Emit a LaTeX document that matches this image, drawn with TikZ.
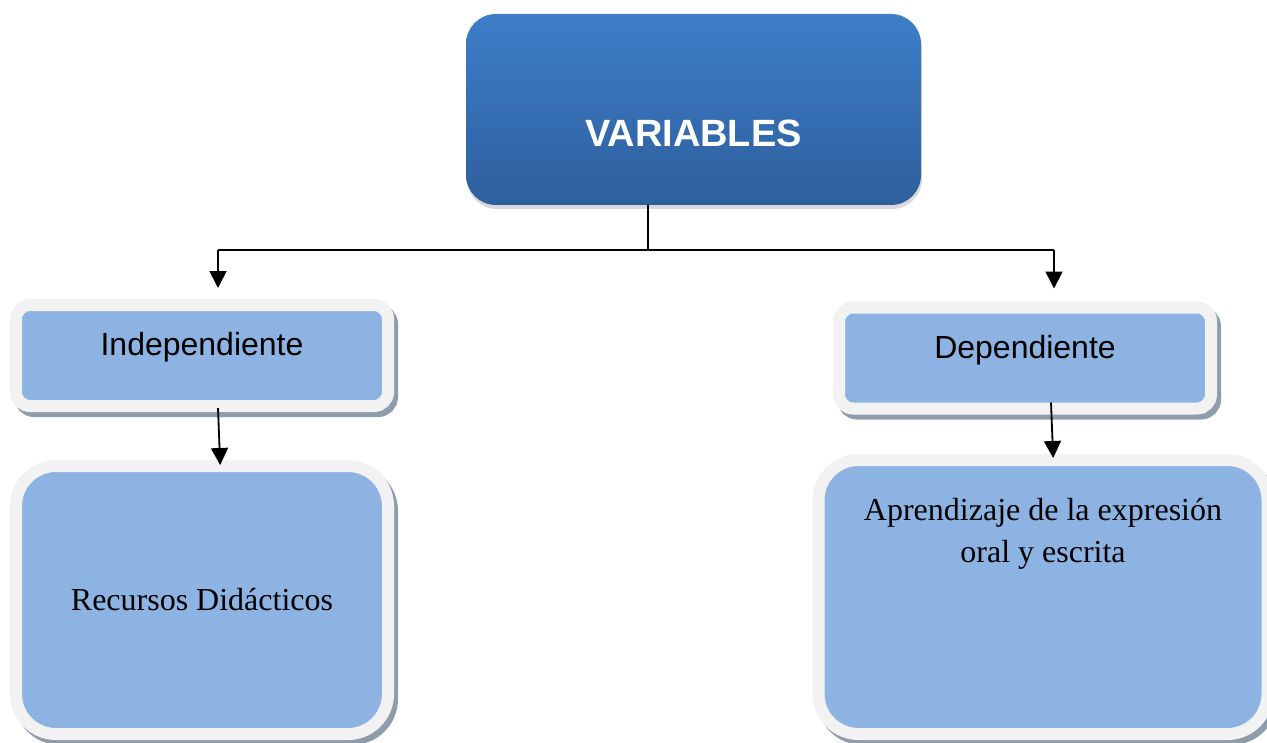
\documentclass[tikz,border=0pt]{standalone}
\usepackage{fontspec}
\setmainfont{Liberation Serif}
\setsansfont{Liberation Sans}
\usetikzlibrary{arrows.meta,positioning,shadows}
\definecolor{topblue}{HTML}{3D7EC9}
\definecolor{botblue}{HTML}{2E5F9D}
\definecolor{boxblue}{HTML}{8DB3E2}
\definecolor{framegray}{HTML}{F2F2F2}
\definecolor{shadegray}{HTML}{8E9CAC}

\begin{document}
\begin{tikzpicture}[x=0.5pt, y=-0.5pt,
	headbox/.style={rounded corners=15pt, top color=topblue, bottom color=botblue, minimum width=227.5pt, minimum height=95.5pt, text=white, font=\sffamily\bfseries\fontsize{19}{23}\selectfont, text height=37pt, text depth=0pt, drop shadow={shadow xshift=0.5pt, shadow yshift=-2pt, opacity=.3}},
	framebox/.style={draw=framegray, line width=6pt, fill=boxblue, preaction={draw=shadegray, fill=shadegray, line width=6pt, transform canvas={shift={(2pt,-2.5pt)}}}},
	smallbox/.style={framebox, rounded corners=7pt, minimum width=186pt, minimum height=50.5pt, font=\sffamily\fontsize{16}{19}\selectfont, text height=12pt, text depth=12pt},
	bigbox/.style={framebox, rounded corners=20pt, font=\rmfamily\fontsize{16}{21}\selectfont},
	line/.style={line width=0.9pt},
	arrow/.style={line width=0.9pt, -{Triangle[length=8.5pt,width=8.5pt]}}]
	\useasboundingbox (0,0) rectangle (1267,743);

	\node[headbox] (var) at (693.5,109.5) {VARIABLES};
	\node[smallbox] (ind) at (202,355.5) {Independiente};
	\node[smallbox] (dep) at (1025,358) {Dependiente};
	\node[bigbox, minimum width=186pt, minimum height=134pt] (rec) at (202,600) {Recursos Didácticos};
	\node[bigbox, minimum width=224.5pt, minimum height=137pt] (apr) at (1043,597) {};
	\node[below=22pt of apr.north, align=center, inner sep=0pt, font=\rmfamily\fontsize{16}{21}\selectfont] (aprtext) {Aprendizaje de la expresión\\oral y escrita};

	\coordinate (hub) at (648,250);
	\coordinate (jl) at (218,250);
	\coordinate (jr) at (1054,250);
	\draw[line] (hub |- var.south) -- (hub);
	\draw[line] (jl) -- (jr);
	\draw[arrow, shorten >=5.5pt] (jl) -- (jl |- ind.north);
	\draw[arrow, shorten >=6.5pt] (jr) -- (jr |- dep.north);
	\draw[arrow, shorten >=-2.5pt] ([xshift=8pt,yshift=2pt]ind.south) -- ([xshift=9pt]rec.north);
	\draw[arrow, shorten >=-2pt] ([xshift=13pt,yshift=6pt]dep.south) -- ([xshift=5pt]apr.north);
\end{tikzpicture}
\end{document}
